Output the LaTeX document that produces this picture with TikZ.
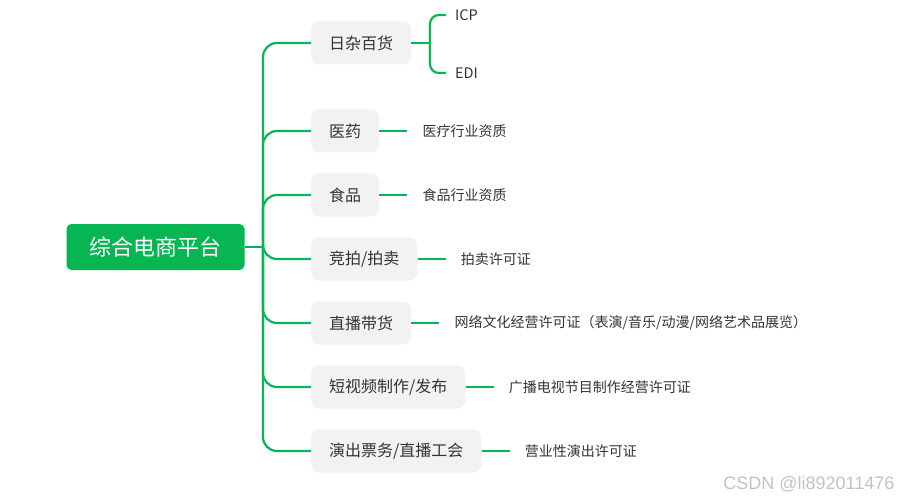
\documentclass[tikz,border=0pt]{standalone}
\usepackage{fontspec}
\usetikzlibrary{positioning}
\newfontfamily\cjk{Noto Sans CJK SC}
\newfontfamily\wmfont{Liberation Sans}
\definecolor{verde}{HTML}{07B652}
\definecolor{grigio}{HTML}{F2F2F2}
\definecolor{testo}{HTML}{333333}

\begin{document}
\begin{tikzpicture}[
  x=1pt, y=-1pt,
  font=\cjk, text=testo,
  branch/.style={draw=verde, line width=2.2pt},
  root/.style={fill=verde, rounded corners=5pt, text=white, inner xsep=23pt,
               inner ysep=0pt, minimum height=46pt,
               font=\cjk\fontsize{22}{24}\selectfont},
  topic/.style={fill=grigio, rounded corners=8pt, inner xsep=18pt, inner ysep=0pt,
                minimum height=43pt, anchor=west,
                font=\cjk\fontsize{16}{18}\selectfont},
  leaf/.style={inner xsep=15pt, inner ysep=2pt,
               font=\cjk\fontsize{14}{16}\selectfont}
]
\useasboundingbox (0,0) rectangle (900,500);

% ---- nodo centrale -------------------------------------------------
\node[root] (centro) at (155.5,247) {综合电商平台};
\coordinate (nodo) at (263,247);

% ---- argomenti ------------------------------------------------------
\node[topic] (riza)   at (311,43)  {日杂百货};
\node[topic] (yiyao)  at (311,131) {医药};
\node[topic] (shipin) at (311,195) {食品};
\node[topic] (jingpai) at (311,259) {竞拍/拍卖};
\node[topic] (zhibo)  at (311,323) {直播带货};
\node[topic] (duanshipin) at (311,387) {短视频制作/发布};
\node[topic] (yanchu) at (311,451) {演出票务/直播工会};

% ---- tronco e rami --------------------------------------------------
\draw[branch] (centro.east) -- (nodo);
\foreach \n in {riza, yiyao, shipin, jingpai, zhibo, duanshipin, yanchu}
  \draw[branch, rounded corners=14pt] (nodo) |- (\n.west);

% ---- licenze --------------------------------------------------------
\node[leaf, right=28pt of yiyao]      (yiyao-zz)  {医疗行业资质};
\node[leaf, right=28pt of shipin]     (shipin-zz) {食品行业资质};
\node[leaf, right=28pt of jingpai]    (jingpai-xk) {拍卖许可证};
\node[leaf, right=28pt of zhibo]      (zhibo-xk)
  {网络文化经营许可证（表演/音乐/动漫/网络艺术品展览）};
\node[leaf, right=28pt of duanshipin] (duanshipin-xk) {广播电视节目制作经营许可证};
\node[leaf, right=28pt of yanchu]     (yanchu-xk) {营业性演出许可证};

\foreach \a/\b in {yiyao/yiyao-zz, shipin/shipin-zz, jingpai/jingpai-xk,
                   zhibo/zhibo-xk, duanshipin/duanshipin-xk, yanchu/yanchu-xk}
  \draw[branch] (\a.east) -- (\b.west);

% ---- parentesi ICP / EDI ---------------------------------------------
\coordinate (gancio) at (430,43);
\node[leaf, inner xsep=9pt, anchor=west, font=\cjk\fontsize{14.5}{16}\selectfont]
  (icp) at (446,15) {ICP};
\node[leaf, inner xsep=9pt, anchor=west, font=\cjk\fontsize{14.5}{16}\selectfont]
  (edi) at (446,73) {EDI};
\draw[branch] (riza.east) -- (gancio);
\draw[branch, rounded corners=9pt] (gancio) |- (icp.west);
\draw[branch, rounded corners=9pt] (gancio) |- (edi.west);

% ---- filigrana ------------------------------------------------------
\node[anchor=east, text=black!24, font=\wmfont\fontsize{18}{20}\selectfont]
  (filigrana) at (898,484) {CSDN @li892011476};

\end{tikzpicture}
\end{document}
